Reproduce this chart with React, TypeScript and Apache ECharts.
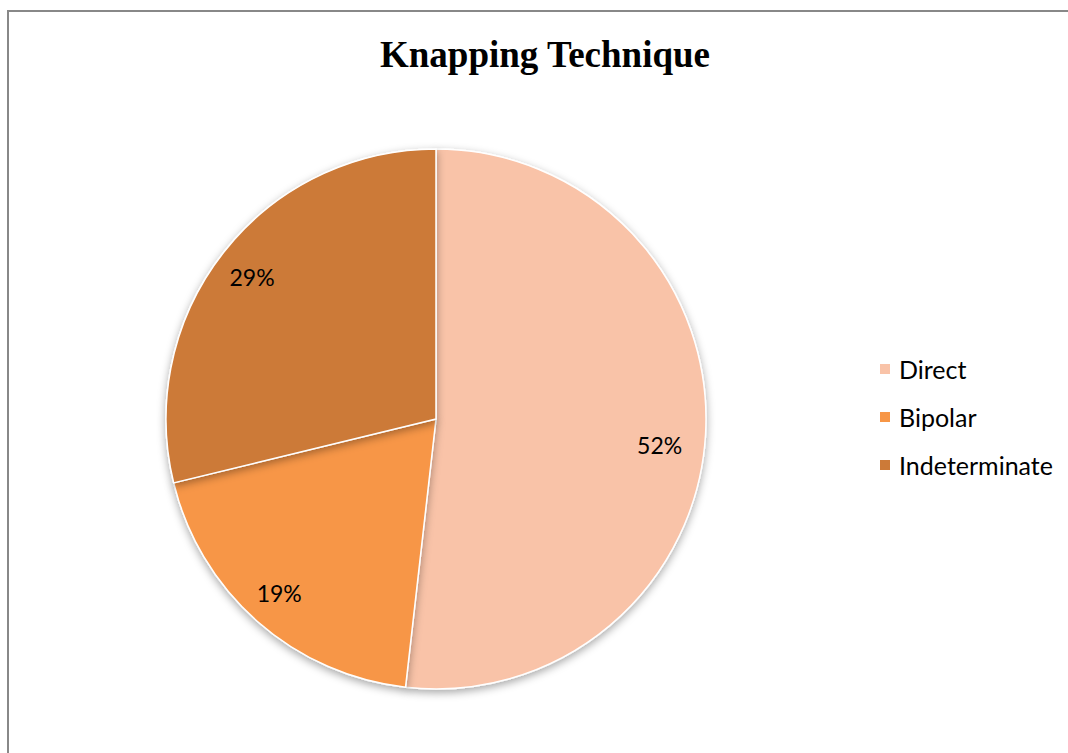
import React, { useEffect, useRef } from "react";
import * as echarts from "echarts";

const categories = ["Direct", "Bipolar", "Indeterminate"];
const values = [51.8, 19.4, 28.8];
const colors = ["#F9C3A8", "#F79646", "#CC7A38"];
const title = "Knapping Technique";

export default function App() {
  const ref = useRef<HTMLDivElement>(null);
  useEffect(() => {
    if (!ref.current) return;
    const chart = echarts.init(ref.current, null, { renderer: "svg" });
    const data = categories.map((c, i) => ({
      name: c,
      value: values[i],
      itemStyle: { color: colors[i] },
    }));
    chart.setOption({
      animation: false,
      backgroundColor: "#ffffff",
      title: {
        text: title,
        left: 545,
        top: 36,
        padding: 0,
        textAlign: "center",
        textStyle: {
          fontFamily: "Liberation Serif",
          fontWeight: "bold",
          fontSize: 37,
          color: "#000",
        },
      },
      legend: {
        orient: "vertical",
        left: 878,
        top: 355,
        padding: 0,
        icon: "rect",
        itemWidth: 12,
        itemHeight: 12,
        itemGap: 20,
        data: categories,
        textStyle: {
          fontFamily: "Lato",
          fontSize: 25,
          lineHeight: 28,
          color: "#000",
          padding: [0, 0, 0, 3],
        },
        selectedMode: false,
      },
      graphic: [
        {
          type: "polyline",
          shape: { points: [[8, 753], [8, 11], [1068, 11]] },
          style: { stroke: "#888", lineWidth: 2, fill: null },
          silent: true,
        },
      ],
      series: [
        {
          type: "pie",
          center: [436, 419],
          radius: [0, 270],
          startAngle: 90,
          clockwise: true,
          label: { show: false },
          labelLine: { show: false },
          itemStyle: {
            borderColor: "#fff",
            borderWidth: 1.5,
            shadowBlur: 8,
            shadowOffsetY: 3,
            shadowColor: "rgba(0,0,0,0.35)",
          },
          data,
        },
        {
          type: "pie",
          center: [436, 419],
          radius: [192, 270],
          startAngle: 90,
          clockwise: true,
          silent: true,
          legendHoverLink: false,
          percentPrecision: 0,
          itemStyle: { color: "rgba(0,0,0,0)", borderWidth: 0 },
          label: {
            show: true,
            position: "inside",
            formatter: "{d}%",
            fontFamily: "Lato",
            fontSize: 23,
            color: "#000",
          },
          labelLine: { show: false },
          data: categories.map((c, i) => ({
            name: c + " ",
            value: values[i],
            label: i === 0 ? { offset: [-10, 13] } : i === 2 ? { offset: [0, 3] } : { offset: [-2, -2] },
          })),
        },
      ],
    });
    return () => chart.dispose();
  }, []);
  return (
    <div style={{ position: "fixed", left: 0, top: 0, width: 1068, height: 753, overflow: "hidden" }}>
      <div ref={ref} style={{ width: 1068, height: 753 }} />
    </div>
  );
}
